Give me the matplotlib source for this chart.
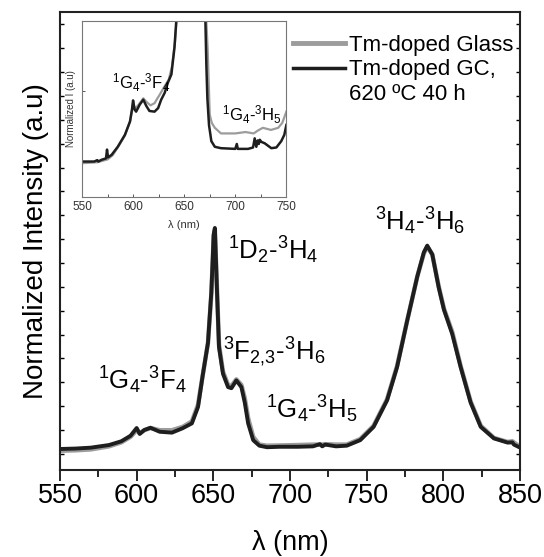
import numpy as np
import matplotlib
matplotlib.use('Agg')
import matplotlib.pyplot as plt
from matplotlib.lines import Line2D
from matplotlib.ticker import MultipleLocator

plt.rcParams['font.family'] = ['Liberation Sans', 'DejaVu Sans']
plt.rcParams['mathtext.default'] = 'regular'

# main spectrum (normalized to the 1D2-3H4 peak)
wl_main = [550, 560, 570, 582, 590, 596, 600, 602, 605, 609, 615, 623, 630, 636, 640, 643,
           646.5, 648.7, 649.6, 650.2, 651, 652.4, 653.7, 656.3, 659.6, 661.8, 665, 668.3,
           670.5, 672.7, 676, 680, 685, 693, 705, 715, 719.5, 721, 723, 730, 737, 745.8,
           754.5, 763.3, 769.8, 776.4, 783, 787.3, 789.5, 792.8, 797, 800.4, 805.8, 811.3,
           817.8, 824.4, 833, 841.9, 845, 846, 849.5]
gc_main = [0.0, 0.002, 0.006, 0.018, 0.035, 0.06, 0.095, 0.068, 0.086, 0.096, 0.078, 0.074,
           0.094, 0.116, 0.19, 0.33, 0.48, 0.71, 0.86, 0.97, 1.0, 0.71, 0.46, 0.34, 0.28,
           0.275, 0.31, 0.28, 0.21, 0.116, 0.04, 0.015, 0.008, 0.01, 0.01, 0.012, 0.022,
           0.012, 0.02, 0.012, 0.015, 0.04, 0.10, 0.22, 0.37, 0.58, 0.78, 0.89, 0.92, 0.88,
           0.73, 0.63, 0.52, 0.37, 0.21, 0.10, 0.048, 0.029, 0.03, 0.02, 0.008]
glass_main = [-0.008, -0.006, -0.002, 0.012, 0.03, 0.055, 0.085, 0.072, 0.085, 0.095, 0.085,
              0.085, 0.10, 0.125, 0.20, 0.33, 0.48, 0.70, 0.85, 0.96, 0.99, 0.72, 0.47, 0.35,
              0.29, 0.285, 0.315, 0.29, 0.23, 0.14, 0.055, 0.02, 0.015, 0.016, 0.018, 0.02,
              0.02, 0.02, 0.022, 0.02, 0.02, 0.045, 0.105, 0.225, 0.375, 0.58, 0.78, 0.885,
              0.915, 0.88, 0.735, 0.635, 0.53, 0.375, 0.215, 0.105, 0.05, 0.032, 0.035, 0.03,
              0.012]

# inset (zoomed around the weak bands)
wl_in_gc = [550, 562, 565, 566, 569, 573.5, 574.5, 575.5, 579, 585, 592, 597, 599, 600, 601.5,
            603, 606.5, 610, 613, 616, 621, 624.5, 627.5, 631, 634, 637.5, 640.5, 642.5, 645,
            648, 651, 653, 656, 660, 662, 665, 668, 670.7, 671.7, 672.7, 674.3, 676.6, 680,
            686, 700, 701.5, 702.5, 712.5, 717.4, 719, 720.6, 722, 723, 724, 725.5, 728.8,
            735.3, 740.2, 745, 748, 750]
gc_in = [0.0, 0.0, 0.02, 0.0, 0.024, 0.045, 0.17, 0.06, 0.095, 0.21, 0.38, 0.57, 0.75, 0.87,
         0.74, 0.71, 0.81, 0.88, 0.79, 0.72, 0.71, 0.76, 0.88, 0.98, 1.12, 1.24, 1.62, 2.05,
         3.2, 6.0, 9.5, 6.0, 3.2, 2.7, 2.6, 2.9, 2.6, 2.05, 1.38, 0.9, 0.52, 0.29, 0.21, 0.19,
         0.18, 0.25, 0.18, 0.18, 0.2, 0.33, 0.21, 0.3, 0.25, 0.31, 0.28, 0.26, 0.19, 0.2,
         0.29, 0.38, 0.52]
wl_in_glass = [550, 565, 575, 580, 585, 592, 597, 599, 600, 602, 606, 610, 613, 617, 621, 623,
               626, 630, 635, 638, 641, 643, 645, 648, 651, 653, 656, 660, 665, 668, 671, 673,
               675, 677, 680, 686, 700, 710, 718, 722, 727, 735, 742, 746, 750]
glass_in = [-0.024, -0.01, 0.03, 0.09, 0.2, 0.37, 0.57, 0.72, 0.83, 0.75, 0.82, 0.9, 0.85, 0.8,
            0.83, 0.88, 0.95, 1.05, 1.17, 1.35, 1.7, 2.1, 3.2, 6.0, 9.5, 6.0, 3.3, 2.8, 3.0,
            2.7, 2.2, 1.6, 0.67, 0.55, 0.48, 0.40, 0.40, 0.42, 0.40, 0.44, 0.48, 0.45, 0.48,
            0.55, 0.71]

fig = plt.figure(figsize=(5.44, 5.57), dpi=100)
ax = fig.add_axes([0.1103, 0.1562, 0.8456, 0.8223])

ax.plot(wl_main, glass_main, color='#9c9c9c', lw=3.2, solid_joinstyle='round')
ax.plot(wl_main, gc_main, color='#1e1e1e', lw=2.8, solid_joinstyle='round')

ax.set_xlim(550, 850)
ax.set_ylim(-0.095, 1.977)
ax.xaxis.set_major_locator(MultipleLocator(50))
ax.xaxis.set_minor_locator(MultipleLocator(25))
ax.set_yticks(np.arange(-0.0226, 1.977, 0.108))
ax.tick_params(axis='x', which='major', direction='out', length=8, width=1.2, labelsize=19.5, pad=1.5)
ax.tick_params(axis='x', which='minor', direction='out', length=5, width=1.2)
ax.tick_params(axis='y', direction='in', length=3, width=1, left=True, right=True,
               labelleft=False)
for s in ax.spines.values():
    s.set_linewidth(1.5)
    s.set_color('#222222')

ax.set_xlabel('λ (nm)', fontsize=19.5, labelpad=15)
ax.set_ylabel('Normalized Intensity (a.u)', fontsize=20, labelpad=8)

ann = 18.5
ax.text(604, 0.31, r'$^1$G$_4$-$^3$F$_4$', fontsize=ann, ha='center', va='center')
ax.text(689, 0.90, r'$^1$D$_2$-$^3$H$_4$', fontsize=ann, ha='center', va='center')
ax.text(690, 0.44, r'$^3$F$_{2{,}3}$-$^3$H$_6$', fontsize=ann, ha='center', va='center')
ax.text(714, 0.18, r'$^1$G$_4$-$^3$H$_5$', fontsize=ann, ha='center', va='center')
ax.text(785, 1.03, r'$^3$H$_4$-$^3$H$_6$', fontsize=ann, ha='center', va='center')

handles = [Line2D([], [], color='#9c9c9c', lw=3.5),
           Line2D([], [], color='#1e1e1e', lw=2.5),
           Line2D([], [], color='none')]
labels = ['Tm-doped Glass', 'Tm-doped GC,', '620 ºC 40 h']
fig.legend(handles, labels, loc='upper left', bbox_to_anchor=(293 / 544, 1 - 35 / 557),
           frameon=False, fontsize=16, handlelength=2.35, handletextpad=0.15,
           labelspacing=0.15, borderpad=0, borderaxespad=0)

# inset
axin = fig.add_axes([0.1507, 0.6469, 0.3757, 0.3154])
axin.plot(wl_in_glass, glass_in, color='#9c9c9c', lw=1.6)
axin.plot(wl_in_gc, gc_in, color='#1e1e1e', lw=1.8)
axin.set_xlim(550, 750)
axin.set_ylim(-0.5, 2.0)
axin.xaxis.set_major_locator(MultipleLocator(50))
axin.xaxis.set_minor_locator(MultipleLocator(25))
axin.set_yticks([0, 1, 2])
axin.tick_params(axis='x', which='both', direction='in', length=2.5, width=0.7,
                 labelsize=8.5, pad=3, colors='#555555', labelcolor='#333333')
axin.tick_params(axis='y', direction='in', length=2.5, width=0.7, labelleft=False,
                 colors='#555555')
for s in axin.spines.values():
    s.set_linewidth(0.8)
    s.set_color('#777777')
axin.set_xlabel('λ (nm)', fontsize=8, labelpad=5, color='#333333')
axin.set_ylabel('Normalized I (a.u)', fontsize=7, labelpad=4, color='#333333')
axin.text(608, 1.12, r'$^1$G$_4$-$^3$F$_4$', fontsize=12, ha='center', va='center')
axin.text(716, 0.67, r'$^1$G$_4$-$^3$H$_5$', fontsize=12, ha='center', va='center')

fig.savefig('out.png', dpi=100)
